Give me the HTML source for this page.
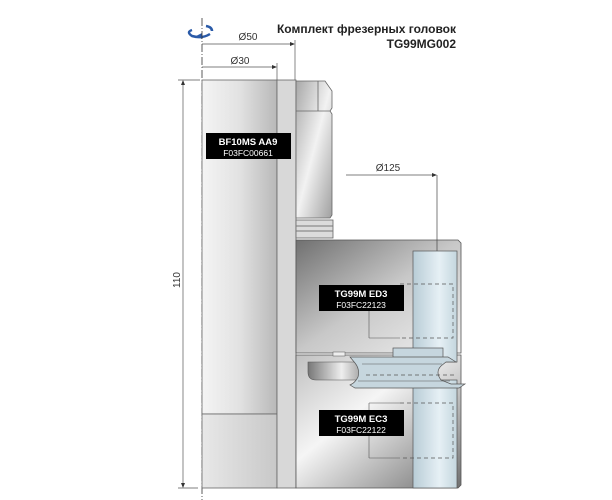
<!DOCTYPE html>
<html><head><meta charset="utf-8"><style>
html,body{margin:0;padding:0;background:#fff;}
svg{display:block;}
text{font-family:"Liberation Sans",sans-serif;}
</style></head><body>
<svg width="612" height="500" viewBox="0 0 612 500" xmlns="http://www.w3.org/2000/svg">
<defs>
<linearGradient id="sh" x1="0" x2="1" y1="0" y2="0"><stop offset="0" stop-color="#f4f4f4"/><stop offset="0.5" stop-color="#e2e2e2"/><stop offset="1" stop-color="#b8b8b8"/></linearGradient>
<linearGradient id="sh2" x1="0" x2="1"><stop offset="0" stop-color="#e8e8e8"/><stop offset="1" stop-color="#c8c8c8"/></linearGradient>
<linearGradient id="nut" x1="0" x2="1" y1="0" y2="1"><stop offset="0" stop-color="#a8a8a8"/><stop offset="0.5" stop-color="#f2f2f2"/><stop offset="1" stop-color="#a0a0a0"/></linearGradient>
<linearGradient id="body" x1="0" x2="1" y1="0" y2="1"><stop offset="0" stop-color="#707070"/><stop offset="0.5" stop-color="#c8c8c8"/><stop offset="1" stop-color="#f0f0f0"/></linearGradient>
<linearGradient id="body2" x1="0" x2="1" y1="0" y2="1"><stop offset="0" stop-color="#c0c0c0"/><stop offset="0.4" stop-color="#f5f5f5"/><stop offset="1" stop-color="#707070"/></linearGradient>
<linearGradient id="led" x1="0" x2="1"><stop offset="0" stop-color="#777"/><stop offset="0.6" stop-color="#eee"/><stop offset="1" stop-color="#999"/></linearGradient>
<linearGradient id="bl" x1="0" x2="1"><stop offset="0" stop-color="#b8ccd6"/><stop offset="0.6" stop-color="#e6f0f5"/><stop offset="1" stop-color="#c4d6de"/></linearGradient>
</defs>
<text x="456" y="33" font-size="12" font-weight="bold" text-anchor="end" fill="#222">Комплект фрезерных головок</text>
<text x="456" y="48" font-size="12" font-weight="bold" text-anchor="end" fill="#222">TG99MG002</text>
<path d="M192 30 q-6 2 0 6 q10 3 18 -2" fill="none" stroke="#2a5aa8" stroke-width="2.5"/>
<path d="M196 36 l6 -3 v6z" fill="#2a5aa8"/>
<path d="M206 26 q6 1 6 5" fill="none" stroke="#2a5aa8" stroke-width="2.5"/>
<line x1="202" y1="18" x2="202" y2="500" stroke="#333" stroke-width="0.8" stroke-dasharray="8,2,1,2"/>
<text x="248" y="40" font-size="10" text-anchor="middle" fill="#333">Ø50</text>
<line x1="202" y1="44" x2="292" y2="44" stroke="#555" stroke-width="0.7"/>
<path d="M295 44 l-5 -2 v4z" fill="#333"/>
<line x1="295" y1="40" x2="295" y2="80" stroke="#555" stroke-width="0.7"/>
<text x="240" y="64" font-size="10" text-anchor="middle" fill="#333">Ø30</text>
<line x1="202" y1="67" x2="274" y2="67" stroke="#555" stroke-width="0.7"/>
<path d="M277 67 l-5 -2 v4z" fill="#333"/>
<line x1="277" y1="63" x2="277" y2="80" stroke="#555" stroke-width="0.7"/>
<line x1="183" y1="81" x2="183" y2="485" stroke="#555" stroke-width="0.7"/>
<line x1="178" y1="80" x2="200" y2="80" stroke="#555" stroke-width="0.7"/>
<line x1="178" y1="488" x2="198" y2="488" stroke="#555" stroke-width="0.7"/>
<path d="M183 80 l-2 5 h4z M183 488 l-2 -5 h4z" fill="#333"/>
<text transform="translate(180,280) rotate(-90)" font-size="10" text-anchor="middle" fill="#333">110</text>
<rect x="202" y="80" width="75" height="334" fill="url(#sh)" stroke="#666" stroke-width="0.8"/>
<rect x="202" y="414" width="75" height="74" fill="url(#sh2)" stroke="#666" stroke-width="0.8"/>
<rect x="277" y="80" width="19" height="408" fill="#d8d8d8" stroke="#666" stroke-width="0.8"/>
<!-- nut -->
<path d="M296 81 h22 h7 l7 10 v17 l-2 3 l2 3 v101 l-2 3 h-34z" fill="url(#nut)" stroke="#666" stroke-width="0.8"/>
<line x1="296" y1="111" x2="330" y2="111" stroke="#666" stroke-width="0.8"/>
<line x1="318" y1="81" x2="318" y2="111" stroke="#666" stroke-width="0.8"/>
<rect x="296" y="220" width="37" height="18" fill="#dcdcdc" stroke="#666" stroke-width="0.8"/>
<line x1="296" y1="226" x2="333" y2="226" stroke="#777"/><line x1="296" y1="231" x2="333" y2="231" stroke="#777"/>
<!-- body -->
<path d="M296 240 h162 l3 3 v110 h-165z" fill="url(#body)" stroke="#555" stroke-width="0.8"/>
<path d="M296 355 h165 v130 l-3 3 h-162z" fill="url(#body2)" stroke="#555" stroke-width="0.8"/>
<path d="M308 362 h50 l6 10 v8 h-48 q-8 0 -8 -8z" fill="url(#led)" stroke="#555" stroke-width="0.6"/>
<rect x="333" y="352" width="12" height="4" fill="#eee" stroke="#555" stroke-width="0.5"/>
<text x="388" y="171" font-size="10" text-anchor="middle" fill="#333">Ø125</text>
<line x1="346" y1="175" x2="434" y2="175" stroke="#555" stroke-width="0.7"/>
<path d="M437 175 l-5 -2 v4z" fill="#333"/>
<line x1="437" y1="175" x2="437" y2="380" stroke="#444" stroke-width="0.7"/>
<!-- blades -->
<rect x="413" y="251" width="44" height="111" fill="url(#bl)" stroke="#555" stroke-width="0.7"/>
<rect x="413" y="380" width="44" height="108" fill="url(#bl)" stroke="#555" stroke-width="0.7"/>
<rect x="393" y="348" width="50" height="12" fill="#c6d6de" stroke="#555" stroke-width="0.7"/>
<path d="M350 357 h98 l8 5 h-10 l-5 4 q-6 6 0 14 l10 4 h14 l-6 4 h-14 h-90 l-5 -3 q5 -2 8 -8 q2 -8 -3 -14z" fill="#c6d6de" stroke="#555" stroke-width="0.7"/>
<line x1="362" y1="364" x2="442" y2="364" stroke="#555" stroke-width="0.6"/>
<line x1="358" y1="381" x2="450" y2="381" stroke="#555" stroke-width="0.6"/>
<g fill="none" stroke="#555" stroke-width="0.7" stroke-dasharray="4,3">
<path d="M400 284 h53 v54 h-53"/><path d="M400 403 h53 v55 h-53"/>
<line x1="366" y1="375" x2="455" y2="375"/>
</g>
<line x1="369" y1="310" x2="369" y2="338" stroke="#555" stroke-width="0.6"/><line x1="369" y1="338" x2="400" y2="338" stroke="#555" stroke-width="0.6"/>
<line x1="369" y1="403" x2="369" y2="458" stroke="#555" stroke-width="0.6"/><line x1="369" y1="458" x2="400" y2="458" stroke="#555" stroke-width="0.6"/>
<line x1="369" y1="403" x2="400" y2="403" stroke="#555" stroke-width="0.6"/>
<rect x="206" y="133" width="85" height="26" fill="#000"/>
<text x="248" y="145" font-size="9.5" font-weight="bold" text-anchor="middle" fill="#fff">BF10MS AA9</text>
<text x="248" y="156" font-size="8.5" text-anchor="middle" fill="#fff">F03FC00661</text>
<rect x="319" y="285" width="85" height="26" fill="#000"/>
<text x="361" y="297" font-size="9.5" font-weight="bold" text-anchor="middle" fill="#fff">TG99M ED3</text>
<text x="361" y="308" font-size="8.5" text-anchor="middle" fill="#fff">F03FC22123</text>
<rect x="319" y="410" width="85" height="26" fill="#000"/>
<text x="361" y="422" font-size="9.5" font-weight="bold" text-anchor="middle" fill="#fff">TG99M EC3</text>
<text x="361" y="433" font-size="8.5" text-anchor="middle" fill="#fff">F03FC22122</text>
</svg>
</body></html>
